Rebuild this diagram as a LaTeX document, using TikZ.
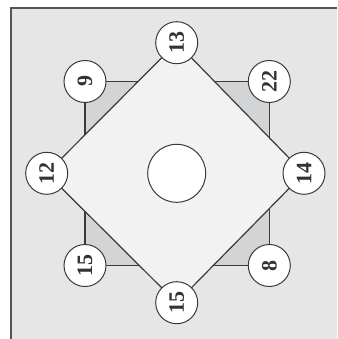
\documentclass[tikz,border=0pt]{standalone}
\usepackage{fontspec}
\setmainfont{Liberation Serif}
\definecolor{bg}{HTML}{E6E6E6}
\definecolor{diam}{HTML}{F2F2F2}
\definecolor{tri}{HTML}{D3D4D6}
\definecolor{ln}{HTML}{3A3A3A}
\definecolor{frame}{HTML}{555555}
\newcommand{\seatfont}{\fontsize{22}{22}\selectfont\bfseries}
\begin{document}
\begin{tikzpicture}[x=1pt,y=-1pt,
  seat/.style={circle,draw=ln,line width=1pt,fill=white,minimum size=42pt,inner sep=0pt,
    font=\seatfont,text=black!80,rotate=90},
  edge/.style={draw=ln,line width=1.2pt}]
\useasboundingbox (0,0) rectangle (337,339);
\fill[white] (0,0) rectangle (337,339);
\fill[bg] (10.5,8.5) rectangle (337,339);
\draw[frame,line width=2pt] (10.5,339) -- (10.5,8.5) -- (337,8.5);
% corner seats positions
\coordinate (c9) at (85,81.5);
\coordinate (c22) at (269.3,81.5);
\coordinate (c8) at (269.3,265.5);
\coordinate (c15a) at (85,265.5);
\coordinate (d13) at (176.7,42.7);
\coordinate (d14) at (304,173.3);
\coordinate (d15) at (176.7,302.7);
\coordinate (d12) at (46.7,173.3);
% square
\path[edge,fill=tri] (c9) -- (c22) -- (c8) -- (c15a) -- cycle;
% diamond
\path[edge,fill=diam] (d13) -- (d14) -- (d15) -- (d12) -- cycle;
% table
\node[circle,draw=ln,line width=1pt,fill=white,minimum size=58pt] (table) at (176.7,173.3) {};
% seats
\node[seat] (n9) at (c9) {9};
\node[seat] (n22) at (c22) {22};
\node[seat] (n8) at (c8) {8};
\node[seat] (n15a) at (c15a) {15};
\node[seat] (n13) at (d13) {13};
\node[seat] (n14) at (d14) {14};
\node[seat] (n15b) at (d15) {15};
\node[seat] (n12) at (d12) {12};
\end{tikzpicture}
\end{document}
